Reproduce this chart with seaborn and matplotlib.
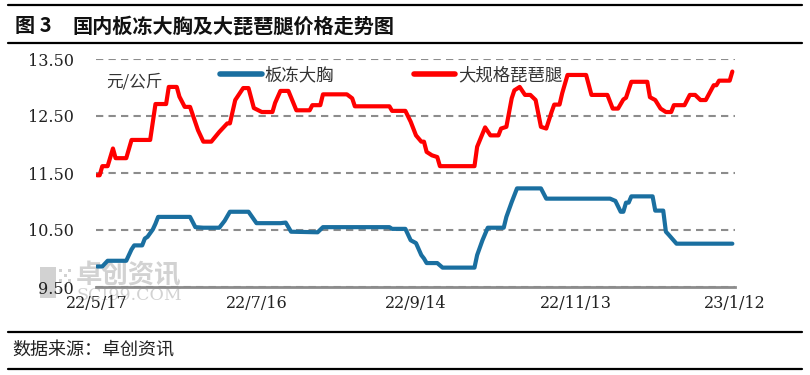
import matplotlib
matplotlib.use("Agg")
import matplotlib.pyplot as plt
import pandas as pd
import seaborn as sns
from matplotlib.lines import Line2D
from matplotlib.patches import Rectangle

# ---------------- data ----------------
series_names = ["板冻大胸", "大规格琵琶腿"]

red_dates = [
    "2022-05-17", "2022-05-18", "2022-05-19", "2022-05-21", "2022-05-23", "2022-05-24",
    "2022-05-28", "2022-05-30", "2022-06-06", "2022-06-08", "2022-06-12", "2022-06-13",
    "2022-06-16", "2022-06-17", "2022-06-19", "2022-06-21", "2022-06-24", "2022-06-26",
    "2022-06-29", "2022-07-02", "2022-07-05", "2022-07-06", "2022-07-08", "2022-07-11",
    "2022-07-13", "2022-07-15", "2022-07-18", "2022-07-22", "2022-07-23", "2022-07-25",
    "2022-07-28", "2022-07-31", "2022-08-05", "2022-08-06", "2022-08-09", "2022-08-10",
    "2022-08-19", "2022-08-21", "2022-08-22", "2022-09-04", "2022-09-05", "2022-09-10",
    "2022-09-12", "2022-09-14", "2022-09-16", "2022-09-17", "2022-09-18", "2022-09-20",
    "2022-09-22", "2022-09-23", "2022-10-06", "2022-10-07", "2022-10-10", "2022-10-12",
    "2022-10-15", "2022-10-16", "2022-10-18", "2022-10-20", "2022-10-21", "2022-10-23",
    "2022-10-25", "2022-10-27", "2022-10-29", "2022-10-31", "2022-11-02", "2022-11-04",
    "2022-11-05", "2022-11-07", "2022-11-08", "2022-11-10", "2022-11-17", "2022-11-19",
    "2022-11-25", "2022-11-27", "2022-11-29", "2022-12-01", "2022-12-02", "2022-12-04",
    "2022-12-10", "2022-12-11", "2022-12-13", "2022-12-15", "2022-12-17", "2022-12-19",
    "2022-12-20", "2022-12-24", "2022-12-26", "2022-12-28", "2022-12-30", "2023-01-01",
    "2023-01-04", "2023-01-05", "2023-01-06", "2023-01-10", "2023-01-11",
]
red_values = [
    11.46, 11.46, 11.62, 11.62, 11.93, 11.76,
    11.76, 12.08, 12.08, 12.71, 12.71, 13.01,
    13.01, 12.84, 12.66, 12.66, 12.25, 12.05,
    12.05, 12.22, 12.37, 12.37, 12.78, 12.99,
    12.99, 12.64, 12.57, 12.57, 12.73, 12.94,
    12.94, 12.60, 12.60, 12.69, 12.69, 12.88,
    12.88, 12.81, 12.67, 12.67, 12.59, 12.59,
    12.40, 12.16, 12.05, 12.05, 11.87, 11.81,
    11.78, 11.62, 11.62, 11.96, 12.30, 12.16,
    12.16, 12.28, 12.31, 12.81, 12.95, 13.01,
    12.87, 12.87, 12.78, 12.31, 12.28, 12.57,
    12.70, 12.70, 12.90, 13.22, 13.22, 12.87,
    12.87, 12.63, 12.63, 12.79, 12.82, 13.10,
    13.10, 12.83, 12.78, 12.63, 12.57, 12.57,
    12.69, 12.69, 12.87, 12.87, 12.78, 12.78,
    13.04, 13.04, 13.12, 13.12, 13.28,
]

blue_dates = [
    "2022-05-17", "2022-05-19", "2022-05-21", "2022-05-28", "2022-05-30", "2022-05-31",
    "2022-06-03", "2022-06-04", "2022-06-05", "2022-06-07", "2022-06-08", "2022-06-09",
    "2022-06-21", "2022-06-23", "2022-06-26", "2022-07-02", "2022-07-04", "2022-07-06",
    "2022-07-13", "2022-07-16", "2022-07-25", "2022-07-27", "2022-07-29", "2022-08-08",
    "2022-08-10", "2022-09-04", "2022-09-05", "2022-09-10", "2022-09-12", "2022-09-14",
    "2022-09-16", "2022-09-17", "2022-09-18", "2022-09-22", "2022-09-24", "2022-10-06",
    "2022-10-07", "2022-10-09", "2022-10-11", "2022-10-17", "2022-10-18", "2022-10-20",
    "2022-10-22", "2022-10-31", "2022-11-02", "2022-11-26", "2022-11-28", "2022-11-30",
    "2022-12-01", "2022-12-02", "2022-12-03", "2022-12-04", "2022-12-12", "2022-12-13",
    "2022-12-16", "2022-12-17", "2022-12-18", "2022-12-21", "2023-01-11",
]
blue_values = [
    9.86, 9.86, 9.96, 9.96, 10.16, 10.23,
    10.23, 10.35, 10.38, 10.51, 10.61, 10.73,
    10.73, 10.55, 10.54, 10.54, 10.66, 10.82,
    10.82, 10.62, 10.62, 10.63, 10.47, 10.46,
    10.55, 10.55, 10.52, 10.52, 10.32, 10.27,
    10.06, 10.00, 9.92, 9.92, 9.84, 9.84,
    10.06, 10.32, 10.54, 10.54, 10.73, 10.99,
    11.23, 11.23, 11.05, 11.05, 11.01, 10.82,
    10.82, 10.98, 10.98, 11.09, 11.09, 10.84,
    10.84, 10.47, 10.42, 10.26, 10.26,
]

tick_dates = ["2022-05-17", "2022-07-16", "2022-09-14", "2022-11-13", "2023-01-12"]
tick_labels = ["22/5/17", "22/7/16", "22/9/14", "22/11/13", "23/1/12"]
y_ticks = [9.5, 10.5, 11.5, 12.5, 13.5]

colors = {"板冻大胸": "#1A6FA0", "大规格琵琶腿": "#FF0000"}

# ---------------- style ----------------
sns.set_theme(style="white")
plt.rcParams["font.family"] = ["Noto Sans CJK SC", "DejaVu Sans"]

W, H = 810, 375
fig = plt.figure(figsize=(W / 100, H / 100), dpi=100)
fig.patch.set_facecolor("white")

def fx(px):
    return px / W

def fy(py):
    return 1 - py / H

ax_left, ax_right, ax_top, ax_bottom = 96, 735, 59, 287
ax = fig.add_axes([fx(ax_left), fy(ax_bottom), (ax_right - ax_left) / W, (ax_bottom - ax_top) / H])
ax.set_zorder(2)
ax.patch.set_alpha(0)

df = pd.concat([
    pd.DataFrame({"date": pd.to_datetime(blue_dates), "value": blue_values, "series": series_names[0]}),
    pd.DataFrame({"date": pd.to_datetime(red_dates), "value": red_values, "series": series_names[1]}),
], ignore_index=True)

sns.lineplot(data=df, x="date", y="value", hue="series", palette=colors,
             linewidth=3.0, ax=ax, legend=False, estimator=None, sort=False,
             zorder=3)
for ln in ax.get_lines():
    ln.set_solid_joinstyle("round")
    ln.set_solid_capstyle("round")

start = pd.Timestamp(red_dates[0])
ax.set_xlim(start - pd.Timedelta(hours=9), pd.Timestamp(tick_dates[-1]))
ax.set_ylim(y_ticks[0], y_ticks[-1])

ax.set_yticks(y_ticks)
ax.set_yticklabels([f"{v:.2f}" for v in y_ticks])
ax.set_xticks(pd.to_datetime(tick_dates))
ax.set_xticklabels(tick_labels)
ax.set_xlabel("")
ax.set_ylabel("")

for lab in ax.get_xticklabels() + ax.get_yticklabels():
    lab.set_family("DejaVu Serif")
    lab.set_fontsize(11.5)
    lab.set_color("#222222")
ax.tick_params(axis="x", length=0, pad=6)
ax.tick_params(axis="y", length=0, pad=16)

ax.yaxis.grid(True, color="#8C8C8C", linewidth=1.5, linestyle=(0, (3.5, 2.5)))
ax.xaxis.grid(False)
for s in ["left", "right", "top"]:
    ax.spines[s].set_visible(False)
ax.spines["bottom"].set_color("#8C8C8C")
ax.spines["bottom"].set_linewidth(2)
ax.spines["bottom"].set_zorder(2.5)

# unit label
fig.text(fx(106), fy(82), "元/公斤", fontsize=12, color="#333333", va="center", ha="left")

# legend
handles = [Line2D([0], [0], color=colors[n], lw=4) for n in series_names]
leg = fig.legend(handles, series_names, loc="center left",
                 bbox_to_anchor=(fx(220), fy(75)), frameon=False, ncol=2,
                 handlelength=2.4, handletextpad=0.15, columnspacing=4.6,
                 borderpad=0, borderaxespad=0,
                 prop={"family": ["Noto Sans CJK SC", "DejaVu Sans"], "size": 12.5})
for t in leg.get_texts():
    t.set_color("#333333")

# watermark (behind the axes)
wm = "#D2D2D2"
fig.patches.append(Rectangle((fx(40), fy(298)), 16 / W, 31 / H, transform=fig.transFigure,
                             facecolor=wm, edgecolor="none", zorder=0.5))
for (px_, py_) in [(59, 269), (64, 274), (59, 279), (68, 269), (64, 284), (68, 279), (59, 289)]:
    fig.patches.append(Rectangle((fx(px_), fy(py_ + 3)), 3 / W, 3 / H, transform=fig.transFigure,
                                 facecolor=wm, edgecolor="none", zorder=0.5))
fig.text(fx(76), fy(276), "卓创资讯", fontsize=19, color=wm, va="center", ha="left",
         fontweight="bold", zorder=0.5)
fig.text(fx(76), fy(295), "SCI99.COM", fontsize=12.5, color=wm, va="center", ha="left",
         family="DejaVu Serif", zorder=0.5)

# title and frame lines
fig.text(fx(15), fy(26), "图 3", fontsize=14.5, fontweight="bold", color="#111111", va="center", ha="left")
fig.text(fx(72), fy(26), "国内板冻大胸及大琵琶腿价格走势图", fontsize=14.5, fontweight="bold",
         color="#111111", va="center", ha="left")
for y in [5, 43, 332, 369]:
    fig.add_artist(Line2D([fx(8), fx(802)], [fy(y), fy(y)], color="black", lw=1.6,
                          transform=fig.transFigure))

fig.text(fx(12), fy(351), "数据来源：卓创资讯", fontsize=13, color="#222222", va="center", ha="left")

fig.savefig("out.png", dpi=100, facecolor="white")
